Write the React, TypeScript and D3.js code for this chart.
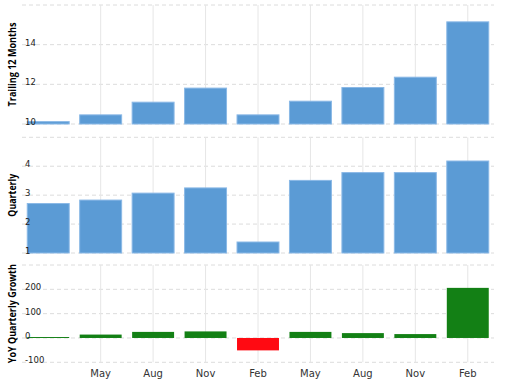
import React from "react";
import * as d3 from "d3";

const categories = ["Feb0", "May", "Aug", "Nov", "Feb", "May2", "Aug2", "Nov2", "Feb2"];
const xLabels = ["", "May", "Aug", "Nov", "Feb", "May", "Aug", "Nov", "Feb"];
const ttmValues = [10.12, 10.46, 11.1, 11.81, 10.46, 11.15, 11.84, 12.36, 15.15];
const quarterlyValues = [2.71, 2.83, 3.07, 3.25, 1.38, 3.51, 3.78, 3.78, 4.18];
const growthValues = [4, 14, 25, 27, -51, 25, 20, 16, 206];
const ttmTicks = [10, 12, 14, 16];
const qTicks = [1, 2, 3, 4, 5];
const gTicks = [-100, 0, 100, 200, 300];

const W = 505;
const H = 381;
const BLUE = "#5b9bd5";
const GREEN = "#138015";
const RED = "#ff0a12";

const x = d3.scaleBand<string>().domain(categories).range([22, 494]).paddingInner(0.2).paddingOuter(0.1);

type Panel = {
  title: string;
  titleLen: number;
  values: number[];
  ticks: number[];
  domain: [number, number];
  range: [number, number];
  signed?: boolean;
};

const panels: Panel[] = [
  { title: "Trailing 12 Months", titleLen: 84, values: ttmValues, ticks: ttmTicks, domain: [10, 16], range: [124, 5] },
  { title: "Quarterly", titleLen: 43, values: quarterlyValues, ticks: qTicks, domain: [1, 5], range: [253, 137.3] },
  { title: "YoY Quarterly Growth", titleLen: 99, values: growthValues, ticks: gTicks, domain: [-100, 300], range: [362.3, 265], signed: true },
];

function PanelView({ p }: { p: Panel }) {
  const y = d3.scaleLinear().domain(p.domain).range(p.range);
  const base = p.signed ? 0 : p.domain[0];
  const top = p.range[1];
  const bottom = p.range[0];
  return (
    <g>
      {p.ticks.map((t) => (
        <line key={"h" + t} x1={22} x2={494} y1={y(t)} y2={y(t)} stroke="#dcdcdc" strokeDasharray="4,3" strokeWidth={1} />
      ))}
      {categories.map((c, i) =>
        i === 0 ? null : (
          <line key={"v" + c} x1={x(c)! + x.bandwidth() / 2} x2={x(c)! + x.bandwidth() / 2} y1={top} y2={bottom} stroke="#e6e6e6" strokeWidth={1} />
        )
      )}
      {p.values.map((v, i) => {
        const c = categories[i];
        const y0 = y(base);
        const y1 = y(v);
        const fill = p.signed ? (v >= 0 ? GREEN : RED) : BLUE;
        return (
          <rect
            key={"b" + c}
            x={x(c)!}
            width={x.bandwidth()}
            y={Math.min(y0, y1)}
            height={Math.abs(y0 - y1)}
            fill={fill}
            stroke={p.signed ? "none" : "#8ab8e6"}
            strokeWidth={p.signed ? 0 : 1}
          />
        );
      })}
      {p.ticks.slice(0, -1).map((t) => (
        <text key={"t" + t} x={25} y={y(t) + 1} fontSize={8.5} fill="#222" fontFamily="DejaVu Sans, Verdana, sans-serif">
          {t}
        </text>
      ))}
      <text
        transform={`translate(15.5,${(top + bottom) / 2}) rotate(-90)`}
        textAnchor="middle"
        fontSize={10}
        fontWeight="bold"
        fill="#000"
        fontFamily="'Open Sans', sans-serif"
        textLength={p.titleLen}
        lengthAdjust="spacingAndGlyphs"
      >
        {p.title}
      </text>
    </g>
  );
}

export default function App() {
  return (
    <svg width={W} height={H} style={{ position: "absolute", left: 0, top: 0, background: "#fff" }}>
      {panels.map((p) => (
        <PanelView key={p.title} p={p} />
      ))}
      {categories.map((c, i) => (
        <text
          key={"xl" + c}
          x={x(c)! + x.bandwidth() / 2}
          y={377}
          textAnchor="middle"
          fontSize={10}
          fill="#333"
          fontFamily="DejaVu Sans, Verdana, sans-serif"
        >
          {xLabels[i]}
        </text>
      ))}
    </svg>
  );
}
